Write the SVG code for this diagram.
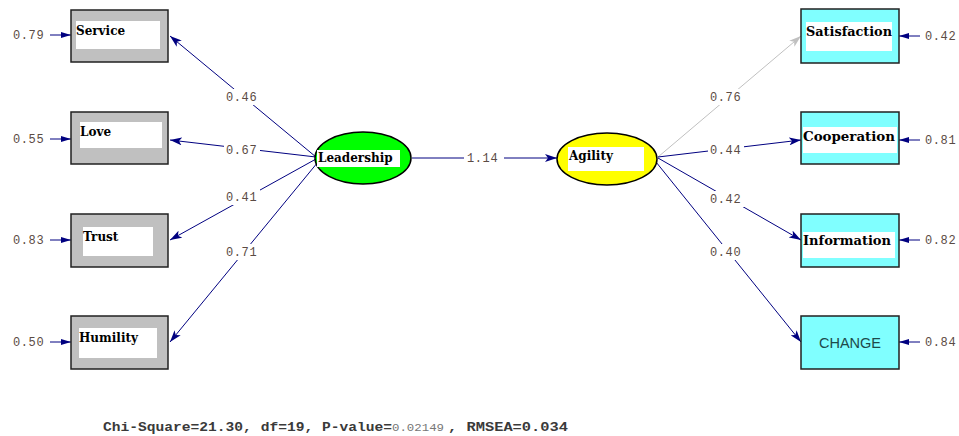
<svg xmlns="http://www.w3.org/2000/svg" width="959" height="436" viewBox="0 0 959 436">
<style>
.bg{fill:#ffffff}
.obs{fill:#c0c0c0;stroke:#202020;stroke-width:1.5}
.obsc{fill:#80ffff;stroke:#202020;stroke-width:1.5}
.inner{fill:#ffffff}
.nl{font-family:"DejaVu Serif",serif;font-weight:bold;font-size:12px;fill:#000000}
.coef{font-family:"Liberation Mono",monospace;font-size:12px;fill:#5b4b44;letter-spacing:0.6px}
.ln{stroke:#000080;stroke-width:1;fill:none}
.lg{stroke:#c0c0c0;stroke-width:1;fill:none}
.lb{fill:#ffffff}
</style>
<defs>
<marker id="ah" viewBox="0 0 12 8" refX="12" refY="4" markerWidth="12" markerHeight="8" markerUnits="userSpaceOnUse" orient="auto">
<path d="M0,0 L12,4 L0,8 L3,4 Z" fill="#000080"/>
</marker>
<marker id="ahg" viewBox="0 0 12 8" refX="12" refY="4" markerWidth="12" markerHeight="8" markerUnits="userSpaceOnUse" orient="auto">
<path d="M0,0 L12,4 L0,8 L3,4 Z" fill="#c0c0c0"/>
</marker>
<marker id="ahs" viewBox="0 0 10 6" refX="10" refY="3" markerWidth="10" markerHeight="6" markerUnits="userSpaceOnUse" orient="auto">
<path d="M0,0 L10,3 L0,6 Z" fill="#000080"/>
</marker>
</defs>
<rect class="bg" x="0" y="0" width="959" height="436"/>

<g id="connectors">
<line class="ln" x1="316" y1="157" x2="170" y2="36" marker-end="url(#ah)"/>
<line class="ln" x1="316" y1="157" x2="170" y2="140" marker-end="url(#ah)"/>
<line class="ln" x1="316" y1="159" x2="170" y2="240" marker-end="url(#ah)"/>
<line class="ln" x1="318" y1="162" x2="170" y2="342" marker-end="url(#ah)"/>
<line class="ln" x1="412" y1="158" x2="557" y2="158" marker-end="url(#ah)"/>
<line class="lg" x1="658" y1="157" x2="801" y2="36" marker-end="url(#ahg)"/>
<line class="ln" x1="658" y1="157" x2="801" y2="140" marker-end="url(#ah)"/>
<line class="ln" x1="658" y1="158" x2="801" y2="240" marker-end="url(#ah)"/>
<line class="ln" x1="656" y1="162" x2="801" y2="342" marker-end="url(#ah)"/>
<line class="ln" x1="50" y1="35" x2="71" y2="35" marker-end="url(#ahs)"/>
<line class="ln" x1="50" y1="139" x2="71" y2="139" marker-end="url(#ahs)"/>
<line class="ln" x1="50" y1="240" x2="71" y2="240" marker-end="url(#ahs)"/>
<line class="ln" x1="50" y1="342" x2="71" y2="342" marker-end="url(#ahs)"/>
<line class="ln" x1="920" y1="36" x2="899" y2="36" marker-end="url(#ahs)"/>
<line class="ln" x1="920" y1="140" x2="899" y2="140" marker-end="url(#ahs)"/>
<line class="ln" x1="920" y1="240" x2="899" y2="240" marker-end="url(#ahs)"/>
<line class="ln" x1="920" y1="342" x2="899" y2="342" marker-end="url(#ahs)"/>
<rect class="lb" x="224" y="89" width="36" height="16"/>
<rect class="lb" x="224" y="142" width="36" height="16"/>
<rect class="lb" x="224" y="189" width="36" height="16"/>
<rect class="lb" x="224" y="244" width="36" height="16"/>
<rect class="lb" x="464" y="151" width="40" height="14"/>
<rect class="lb" x="708" y="89" width="36" height="16"/>
<rect class="lb" x="708" y="142" width="36" height="16"/>
<rect class="lb" x="708" y="191" width="36" height="16"/>
<rect class="lb" x="708" y="244" width="36" height="16"/>
<text class="coef" x="226" y="101">0.46</text>
<text class="coef" x="226" y="154">0.67</text>
<text class="coef" x="226" y="201">0.41</text>
<text class="coef" x="226" y="256">0.71</text>
<text class="coef" x="467" y="162">1.14</text>
<text class="coef" x="710" y="101">0.76</text>
<text class="coef" x="710" y="154">0.44</text>
<text class="coef" x="710" y="203">0.42</text>
<text class="coef" x="710" y="256">0.40</text>
<text class="coef" x="13" y="39">0.79</text>
<text class="coef" x="13" y="143">0.55</text>
<text class="coef" x="13" y="244">0.83</text>
<text class="coef" x="13" y="346">0.50</text>
<text class="coef" x="925" y="40">0.42</text>
<text class="coef" x="925" y="144">0.81</text>
<text class="coef" x="925" y="244">0.82</text>
<text class="coef" x="925" y="346">0.84</text>
</g>

<g id="service">
<rect class="obs" x="71" y="10" width="97" height="52"/>
<rect class="inner" x="76" y="21" width="84" height="28"/>
<text class="nl" x="76" y="35">Service</text>
</g>
<g id="love">
<rect class="obs" x="71" y="112" width="97" height="52"/>
<rect class="inner" x="80" y="122" width="82" height="26"/>
<text class="nl" x="80" y="136">Love</text>
</g>
<g id="trust">
<rect class="obs" x="71" y="214" width="97" height="53"/>
<rect class="inner" x="83" y="227" width="70" height="29"/>
<text class="nl" x="83" y="241">Trust</text>
</g>
<g id="humility">
<rect class="obs" x="71" y="316" width="97" height="53"/>
<rect class="inner" x="79" y="328" width="78" height="30"/>
<text class="nl" x="79" y="342">Humility</text>
</g>

<g id="leadership">
<ellipse cx="363" cy="158" rx="48" ry="26" fill="#00ff00" stroke="#000000" stroke-width="1.5"/>
<rect class="inner" x="317" y="150" width="83" height="17"/>
<text class="nl" x="318" y="162">Leadership</text>
</g>
<g id="agility">
<ellipse cx="607" cy="159" rx="50" ry="26" fill="#ffff00" stroke="#000000" stroke-width="1.5"/>
<rect class="inner" x="568" y="147" width="76" height="24"/>
<text class="nl" x="569" y="160">Agility</text>
</g>

<g id="satisfaction">
<rect class="obsc" x="801" y="9" width="98" height="54"/>
<rect class="inner" x="806" y="22" width="86" height="29"/>
<text class="nl" x="806" y="36" textLength="86" lengthAdjust="spacingAndGlyphs">Satisfaction</text>
</g>
<g id="cooperation">
<rect class="obsc" x="801" y="112" width="98" height="52"/>
<rect class="inner" x="803" y="127" width="94" height="26"/>
<text class="nl" x="803" y="141" textLength="92" lengthAdjust="spacingAndGlyphs">Cooperation</text>
</g>
<g id="information">
<rect class="obsc" x="801" y="214" width="98" height="53"/>
<rect class="inner" x="803" y="232" width="92" height="26"/>
<text class="nl" x="803" y="245" textLength="88" lengthAdjust="spacingAndGlyphs">Information</text>
</g>
<g id="change">
<rect class="obsc" x="801" y="316" width="98" height="53"/>
<text x="850" y="348" text-anchor="middle" font-family="Liberation Sans,sans-serif" font-size="14.5px" fill="#1e4a4a">CHANGE</text>
</g>

<g id="fit">
<text x="103" y="431" font-family="Liberation Mono,monospace" font-weight="bold" font-size="12px" fill="#3a3a3a" textLength="289" lengthAdjust="spacingAndGlyphs">Chi-Square=21.30, df=19, P-value=</text>
<text x="392" y="431" font-family="Liberation Mono,monospace" font-size="10px" fill="#777777" textLength="52" lengthAdjust="spacingAndGlyphs">0.02149</text>
<text x="448" y="431" font-family="Liberation Mono,monospace" font-weight="bold" font-size="12px" fill="#3a3a3a" textLength="120" lengthAdjust="spacingAndGlyphs"> , RMSEA=0.034</text>
</g>
</svg>
